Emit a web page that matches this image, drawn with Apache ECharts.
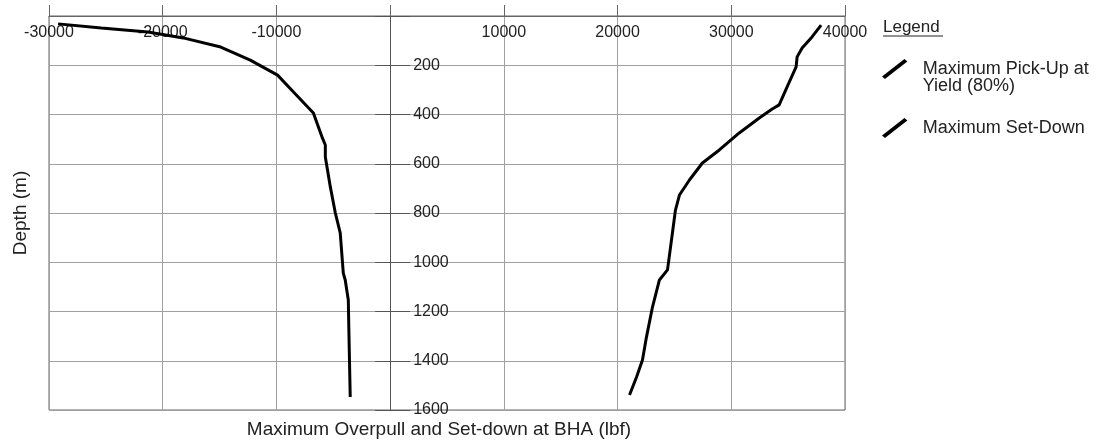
<!DOCTYPE html>
<html>
<head>
<meta charset="utf-8">
<script src="https://cdn.jsdelivr.net/npm/echarts@6/dist/echarts.min.js"></script>
<style>
html,body{margin:0;padding:0;background:#fff;}
#chart{width:1097px;height:443px;}
</style>
</head>
<body>
<div id="chart"></div>
<script>
// Data
const pickUpName = 'Maximum Pick-Up at\nYield (80%)';
const setDownName = 'Maximum Set-Down';
const pickUpX = [37900, 37100, 36230, 35790, 35700, 34910, 34210, 33600, 32460, 30700, 28950, 27460, 26320, 25440, 25090, 24740, 24390, 23680, 23070, 22540, 22190, 21670, 21050];
const pickUpDepth = [37, 85, 130, 166, 207, 288, 361, 378, 414, 475, 544, 597, 666, 727, 788, 910, 1031, 1072, 1182, 1304, 1397, 1466, 1539];
const setDownX = [-29200, -25400, -21300, -18200, -14900, -12300, -9900, -8500, -6750, -5960, -5700, -5700, -5260, -4820, -4390, -4120, -3950, -3680, -3600, -3510];
const setDownDepth = [32, 49, 65, 89, 126, 179, 240, 309, 394, 495, 524, 573, 694, 800, 881, 1044, 1072, 1153, 1344, 1547];
const xTicks = [-30000, -20000, -10000, 0, 10000, 20000, 30000, 40000];
const depthTicks = [0, 200, 400, 600, 800, 1000, 1200, 1400, 1600];
const xTitle = 'Maximum Overpull and Set-down at BHA (lbf)';
const yTitle = 'Depth (m)';
const legendTitle = 'Legend';

const FONT = '"Liberation Sans", Arial, sans-serif';
const zip = (xs, ys) => xs.map((v, i) => [v, ys[i]]);

const chart = echarts.init(document.getElementById('chart'), null, {renderer: 'canvas'});

// plot geometry
const G = {left: 49, right: 252, top: 16, bottom: 33};
const plotW = 1097 - G.left - G.right;
const xMin = xTicks[0], xMax = xTicks[xTicks.length - 1];
const zeroPx = G.left + plotW * (0 - xMin) / (xMax - xMin);

const yBase = {
  type: 'value', inverse: true,
  min: depthTicks[0], max: depthTicks[depthTicks.length - 1], interval: depthTicks[1] - depthTicks[0]
};
const hiddenX = {type: 'value', show: false, min: 0, max: 1};

chart.setOption({
  animation: false,
  backgroundColor: '#fff',
  grid: [
    {left: G.left, right: G.right, top: G.top, bottom: G.bottom, show: true, borderColor: '#666', borderWidth: 1},
    // grid whose left edge is the zero line: carries the depth axis (ticks left, labels right)
    {left: zeroPx, right: G.right, top: G.top, bottom: G.bottom},
    // grid whose right edge is the zero line: carries the right-hand part of the ticks
    {left: G.left, right: 1097 - zeroPx, top: G.top, bottom: G.bottom}
  ],
  xAxis: [
    {
      gridIndex: 0, type: 'value', position: 'top',
      min: xMin, max: xMax, interval: xTicks[1] - xTicks[0],
      axisLine: {show: true, onZero: false, lineStyle: {color: '#666'}},
      axisTick: {show: true, inside: false, length: 11, lineStyle: {color: '#666'}},
      axisLabel: {inside: true, margin: 9, fontFamily: FONT, fontSize: 16, color: '#222',
        formatter: v => (v === 0 ? '' : String(v))},
      splitLine: {show: true, lineStyle: {color: '#a0a0a0', width: 1}}
    },
    Object.assign({gridIndex: 1}, hiddenX),
    Object.assign({gridIndex: 2}, hiddenX)
  ],
  yAxis: [
    Object.assign({}, yBase, {
      gridIndex: 0, position: 'left',
      axisLine: {show: false}, axisTick: {show: false}, axisLabel: {show: false},
      splitLine: {show: true, lineStyle: {color: '#a0a0a0', width: 1}}
    }),
    Object.assign({}, yBase, {
      gridIndex: 1, position: 'left',
      axisLine: {show: true, onZero: false, lineStyle: {color: '#555', width: 1}},
      axisTick: {show: true, inside: false, length: 15, lineStyle: {color: '#555'}},
      axisLabel: {inside: true, margin: 23, fontFamily: FONT, fontSize: 16, color: '#222',
        formatter: v => (v === 0 ? '' : String(v))},
      splitLine: {show: false}
    }),
    Object.assign({}, yBase, {
      gridIndex: 2, position: 'right',
      axisLine: {show: false, onZero: false},
      axisTick: {show: true, inside: false, length: 20, lineStyle: {color: '#555'}},
      axisLabel: {show: false},
      splitLine: {show: false}
    })
  ],
  legend: {
    orient: 'vertical', left: 882, top: 43, itemGap: 23, padding: 0,
    itemWidth: 26, itemHeight: 20,
    icon: 'path://M0,18 L23,0 L26,2.5 L3,20.5 Z',
    textStyle: {fontFamily: FONT, fontSize: 18, color: '#222', lineHeight: 17, padding: [0, 0, 0, 10]},
    // a leading empty line drops the two-line label slightly below its icon, as in the reference
    formatter: name => (name === pickUpName ? '\n' + name : name),
    data: [pickUpName, setDownName]
  },
  graphic: [
    {type: 'text', left: 883, top: 19, style: {text: legendTitle, fontFamily: FONT, fontSize: 17, fill: '#222'}},
    {type: 'line', shape: {x1: 883, y1: 36, x2: 943, y2: 36}, style: {stroke: '#222', lineWidth: 1}},
    {type: 'text', x: 439, y: 430, style: {text: xTitle, fontFamily: FONT, fontSize: 19, fill: '#222', align: 'center', verticalAlign: 'middle'}},
    {type: 'text', x: 21, y: 213, rotation: Math.PI / 2, style: {text: yTitle, fontFamily: FONT, fontSize: 19, fill: '#222', align: 'center', verticalAlign: 'middle'}}
  ],
  series: [
    {name: pickUpName, type: 'line', xAxisIndex: 0, yAxisIndex: 0, data: zip(pickUpX, pickUpDepth), showSymbol: false, symbol: 'none',
      lineStyle: {color: '#000', width: 3}, itemStyle: {color: '#000'}},
    {name: setDownName, type: 'line', xAxisIndex: 0, yAxisIndex: 0, data: zip(setDownX, setDownDepth), showSymbol: false, symbol: 'none',
      lineStyle: {color: '#000', width: 3}, itemStyle: {color: '#000'}}
  ]
});
</script>
</body>
</html>
